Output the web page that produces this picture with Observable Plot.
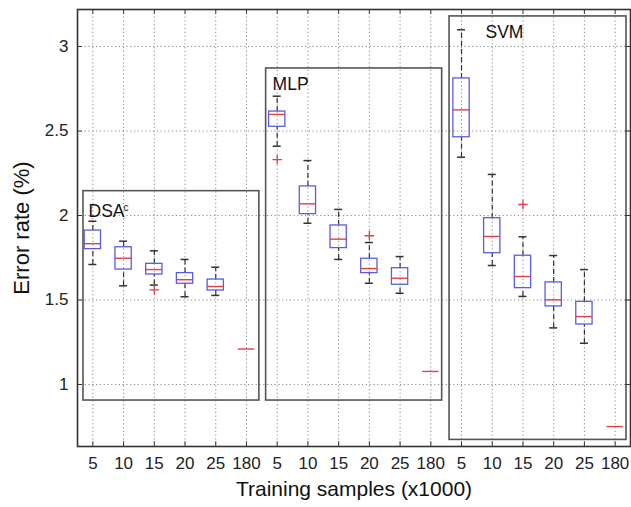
<!DOCTYPE html>
<html>
<head>
<meta charset="utf-8">
<script src="https://cdn.jsdelivr.net/npm/d3@7"></script>
<script src="https://cdn.jsdelivr.net/npm/@observablehq/plot@0.6"></script>
<style>
  html, body { margin: 0; padding: 0; background: #fff; }
  #chart svg { display: block; }
</style>
</head>
<body>
<div id="chart"></div>
<script>
// ---- data ----
const sampleLabels = ["5", "10", "15", "20", "25", "180"];
const groupNames = ["DSA", "MLP", "SVM"];

// box statistics for 5k..25k training samples
const dsaLow  = [1.710, 1.584, 1.588, 1.519, 1.527];
const dsaQ1   = [1.801, 1.680, 1.651, 1.596, 1.556];
const dsaMed  = [1.833, 1.747, 1.680, 1.620, 1.580];
const dsaQ3   = [1.911, 1.812, 1.714, 1.659, 1.621];
const dsaHigh = [1.966, 1.848, 1.791, 1.740, 1.694];

const mlpLow  = [2.410, 1.954, 1.740, 1.599, 1.540];
const mlpQ1   = [2.525, 2.008, 1.807, 1.659, 1.590];
const mlpMed  = [2.598, 2.069, 1.860, 1.686, 1.629];
const mlpQ3   = [2.615, 2.172, 1.941, 1.744, 1.688];
const mlpHigh = [2.706, 2.325, 2.036, 1.840, 1.757];

const svmLow  = [2.345, 1.704, 1.521, 1.335, 1.244];
const svmQ1   = [2.463, 1.777, 1.570, 1.462, 1.355];
const svmMed  = [2.625, 1.876, 1.639, 1.501, 1.402];
const svmQ3   = [2.811, 1.984, 1.762, 1.604, 1.489];
const svmHigh = [3.099, 2.243, 1.874, 1.763, 1.680];

// full training set (180k): single value
const fullValues = [1.21, 1.077, 0.751];

// outliers
const outlierGroup  = [0, 1, 1, 2];
const outlierSample = [2, 0, 3, 2];
const outlierValue  = [1.560, 2.331, 1.880, 2.065];

// group enclosures (x in category-index units, y in error rate)
const groupLeft   = [0.695, 6.64, 12.61];
const groupRight  = [6.42, 12.37, 18.37];
const groupTop    = [2.144, 2.87, 3.178];
const groupBottom = [0.905, 0.905, 0.672];
// group label anchors
const labelX = [0.86, 6.85, 13.78];
const labelY = [2.024, 2.778, 3.086];

const yTicks = [1, 1.5, 2, 2.5, 3];

// ---- build tables ----
const stats = [
  [dsaLow, dsaQ1, dsaMed, dsaQ3, dsaHigh],
  [mlpLow, mlpQ1, mlpMed, mlpQ3, mlpHigh],
  [svmLow, svmQ1, svmMed, svmQ3, svmHigh]
];
const boxes = [];
stats.forEach((s, g) => {
  for (let c = 0; c < 5; c++) {
    boxes.push({i: g * 6 + c + 1, lo: s[0][c], q1: s[1][c], med: s[2][c], q3: s[3][c], hi: s[4][c]});
  }
});
const fulls = fullValues.map((v, g) => ({i: g * 6 + 6, v}));
const outliers = outlierValue.map((v, k) => ({i: outlierGroup[k] * 6 + outlierSample[k] + 1, v}));
const groups = groupNames.map((name, g) => ({
  name, x1: groupLeft[g], x2: groupRight[g], y1: groupBottom[g], y2: groupTop[g], lx: labelX[g], ly: labelY[g]
}));
const xTicks = d3.range(1, 19);
const xLabel = i => sampleLabels[(i - 1) % 6];

const xDomain = [0.5, 18.5];
const yDomain = [0.633, 3.219];
const boxHalf = 0.265;
const capHalf = 0.13;
const tickLenX = 0.028; // y units
const tickLenY = 0.16;  // x units

const font = "'Liberation Sans', Arial, sans-serif";
const BLUE = "#5c5ce0";
const RED = "#e0404a";

const chart = Plot.plot({
  width: 631,
  height: 507,
  marginLeft: 77,
  marginRight: 1,
  marginTop: 9,
  marginBottom: 61,
  style: {fontFamily: font, fontSize: "17px", color: "#222", background: "#fff"},
  x: {domain: xDomain, ticks: xTicks, tickFormat: xLabel, tickSize: 0, tickPadding: 10, label: null},
  y: {domain: yDomain, ticks: yTicks, tickFormat: d => String(d), tickSize: 0, tickPadding: 9, label: null},
  marks: [
    // dotted grid
    Plot.ruleX(xTicks, {x: d => d, stroke: "#8a8a8a", strokeDasharray: "1.2,2.6", strokeWidth: 1}),
    Plot.ruleY(yTicks, {y: d => d, stroke: "#8a8a8a", strokeDasharray: "1.2,2.6", strokeWidth: 1}),
    // group enclosures
    Plot.rect(groups, {x1: "x1", x2: "x2", y1: "y1", y2: "y2", fill: "none", stroke: "#555", strokeWidth: 1.6}),
    // whiskers
    Plot.ruleX(boxes, {x: "i", y1: "lo", y2: "q1", stroke: "#333", strokeWidth: 1.2, strokeDasharray: "5,3"}),
    Plot.ruleX(boxes, {x: "i", y1: "q3", y2: "hi", stroke: "#333", strokeWidth: 1.2, strokeDasharray: "5,3"}),
    Plot.ruleY(boxes, {y: "lo", x1: d => d.i - capHalf, x2: d => d.i + capHalf, stroke: "#333", strokeWidth: 1.5}),
    Plot.ruleY(boxes, {y: "hi", x1: d => d.i - capHalf, x2: d => d.i + capHalf, stroke: "#333", strokeWidth: 1.5}),
    // boxes
    Plot.rect(boxes, {x1: d => d.i - boxHalf, x2: d => d.i + boxHalf, y1: "q1", y2: "q3", fill: "none", stroke: BLUE, strokeWidth: 1.3}),
    // medians
    Plot.ruleY(boxes, {y: "med", x1: d => d.i - boxHalf, x2: d => d.i + boxHalf, stroke: RED, strokeWidth: 1.4}),
    Plot.ruleY(fulls, {y: "v", x1: d => d.i - boxHalf, x2: d => d.i + boxHalf, stroke: RED, strokeWidth: 1.4}),
    // outliers
    Plot.dot(outliers, {x: "i", y: "v", symbol: "plus", r: 3.2, stroke: RED, strokeWidth: 1.3}),
    // frame and inward ticks
    Plot.frame({stroke: "#333", strokeWidth: 1.6}),
    Plot.ruleX(xTicks, {x: d => d, y1: yDomain[0], y2: yDomain[0] + tickLenX, stroke: "#333", strokeWidth: 1}),
    Plot.ruleX(xTicks, {x: d => d, y1: yDomain[1], y2: yDomain[1] - tickLenX, stroke: "#333", strokeWidth: 1}),
    Plot.ruleY(yTicks, {y: d => d, x1: xDomain[0], x2: xDomain[0] + tickLenY, stroke: "#333", strokeWidth: 1}),
    Plot.ruleY(yTicks, {y: d => d, x1: xDomain[1], x2: xDomain[1] - tickLenY, stroke: "#333", strokeWidth: 1}),
    // group labels
    Plot.text(groups, {x: "lx", y: "ly", text: "name", textAnchor: "start", fontSize: 17.5, fill: "#111"}),
    Plot.text(groups.filter(g => g.name === "DSA"), {x: "lx", y: "ly", text: () => "c", textAnchor: "start", fontSize: 10, dx: 35, dy: -4, fill: "#111"}),
    // axis titles
    Plot.text(["Training samples (x1000)"], {frameAnchor: "bottom", textAnchor: "middle", dy: 49, text: d => d, fontSize: 21, fill: "#111"}),
    Plot.text(["Error rate (%)"], {frameAnchor: "left", textAnchor: "middle", dx: -56, rotate: -90, text: d => d, fontSize: 22, fill: "#111"})
  ]
});
document.getElementById("chart").appendChild(chart);
</script>
</body>
</html>
